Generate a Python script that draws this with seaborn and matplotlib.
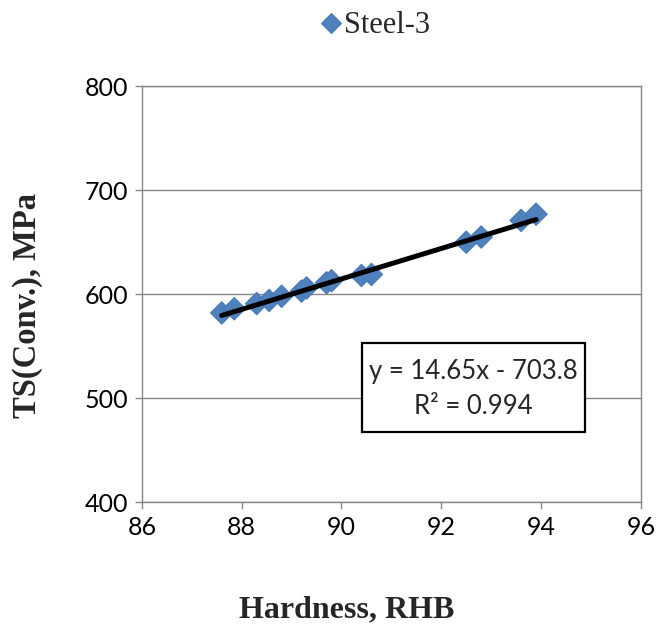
import numpy as np
import pandas as pd
import matplotlib
matplotlib.use("Agg")
import matplotlib.pyplot as plt
from matplotlib.patches import Rectangle
import seaborn as sns

# Hardness vs. conventional tensile strength, Steel-3
hardness = [87.6, 87.85, 88.3, 88.55, 88.8, 89.2, 89.3, 89.7, 89.8, 90.4, 90.6, 92.5, 92.8, 93.6, 93.9]
ts_conv = [582, 586, 591, 594, 598, 603, 606, 611, 613, 618, 619, 650, 655, 671, 677]

# Linear trend line coefficients
slope = 14.65
intercept = -703.8
r_squared = 0.994

x_ticks = [86, 88, 90, 92, 94, 96]
y_ticks = [400, 500, 600, 700, 800]

sns.set_theme(style="white")
plt.rcParams["font.family"] = ["Lato", "DejaVu Sans"]

df = pd.DataFrame({"Hardness": hardness, "TS": ts_conv, "Series": "Steel-3"})
trend_x = np.array([min(hardness), max(hardness)])
trend = pd.DataFrame({"x": trend_x, "y": slope * trend_x + intercept})

fig = plt.figure(figsize=(6.6, 6.3), dpi=100)
ax = fig.add_axes([0.215, 0.203, 0.756, 0.660])

sns.scatterplot(data=df, x="Hardness", y="TS", hue="Series", palette=["#4F81BD"],
                marker="D", s=130, edgecolor="#4A7AB5", linewidth=0.8, ax=ax, zorder=3)
sns.lineplot(data=trend, x="x", y="y", color="black", linewidth=3.6, ax=ax,
             legend=False, zorder=4)

ax.set_xlim(86, 96)
ax.set_ylim(400, 800)
ax.set_xticks(x_ticks)
ax.set_yticks(y_ticks)
ax.tick_params(axis="both", labelsize=18, length=5, width=1, color="#868686",
               direction="out", bottom=True, left=True, pad=5)
for t in ax.get_xticklabels() + ax.get_yticklabels():
    t.set_color("black")

ax.yaxis.grid(True, color="#868686", linewidth=1)
ax.xaxis.grid(False)
ax.set_axisbelow(True)
for sp in ax.spines.values():
    sp.set_color("#868686")
    sp.set_linewidth(1)

ax.set_xlabel("Hardness, RHB", fontsize=23, fontweight="bold",
              family="Liberation Serif")
ax.set_ylabel("TS(Conv.), MPa", fontsize=23.5, fontweight="bold",
              family="Liberation Serif")
ax.xaxis.set_label_coords(0.41, -0.225)
ax.yaxis.set_label_coords(-0.198, 0.472)

handles, labels = ax.get_legend_handles_labels()
leg = fig.legend(handles, labels, loc="center", bbox_to_anchor=(0.558, 0.959),
                 frameon=False, handletextpad=-0.35, handlelength=1.6, markerscale=0.85,
                 borderpad=0.0, prop={"family": "Liberation Serif", "size": 22})
if ax.get_legend() is not None:
    ax.get_legend().remove()

# Trend-line equation box
ax.add_patch(Rectangle((0.441, 0.168), 0.447, 0.214, transform=ax.transAxes,
                       facecolor="white", edgecolor="black", linewidth=1.6, zorder=5))
ax.text(0.664, 0.2715, f"y = {slope}x - {abs(intercept)}\nR² = {r_squared}",
        transform=ax.transAxes, ha="center", va="center", fontsize=18.5,
        linespacing=1.5, zorder=6)

fig.savefig("out.png", dpi=100)
